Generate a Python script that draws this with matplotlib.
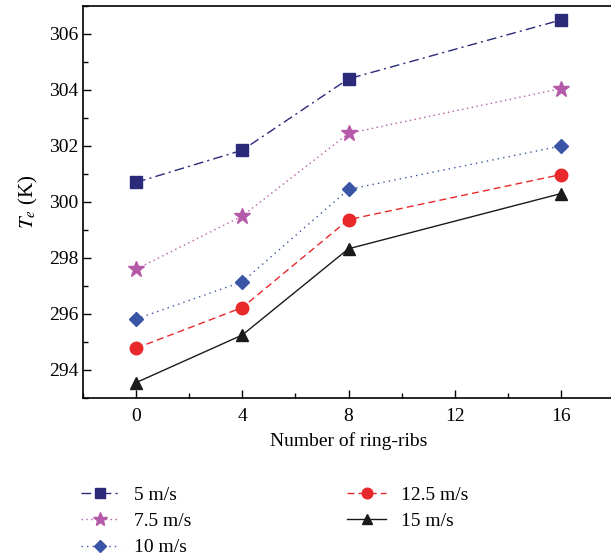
import matplotlib
matplotlib.use("Agg")
import matplotlib.pyplot as plt
from matplotlib.ticker import MultipleLocator

plt.rcParams['font.family'] = ['Liberation Serif', 'DejaVu Serif']
plt.rcParams['mathtext.fontset'] = 'stix'

ribs = [0, 4, 8, 16]
labels = ['5 m/s', '7.5 m/s', '10 m/s', '12.5 m/s', '15 m/s']
v5 = [300.70, 301.85, 304.40, 306.50]
v75 = [297.60, 299.50, 302.45, 304.05]
v10 = [295.82, 297.15, 300.45, 302.00]
v125 = [294.78, 296.23, 299.37, 300.98]
v15 = [293.55, 295.25, 298.33, 300.30]

series = [v5, v75, v10, v125, v15]
colors = ['#2b2a7a', '#b55aa8', '#3a55a5', '#e8282a', '#1a1a1a']
markers = ['s', '*', 'D', 'o', '^']
msizes = [8.5, 12, 7.5, 9, 8]
styles = [(0, (7, 3, 1.5, 3)), (0, (1, 2.5)), (0, (1, 3)), (0, (5, 3)), '-']

fig = plt.figure(figsize=(6.11, 5.59), dpi=100)
ax = fig.add_axes([83/611, 161/559, 531/611, 392/559])

for y, c, m, ms, ls, lab in zip(series, colors, markers, msizes, styles, labels):
    ax.plot(ribs, y, color=c, marker=m, markersize=ms, linestyle=ls,
            linewidth=1.0, label=lab, markeredgecolor=c)

ax.set_xlim(-2, 18)
ax.set_ylim(293, 307)
ax.set_xticks([0, 4, 8, 12, 16])
ax.set_yticks([294, 296, 298, 300, 302, 304, 306])
ax.xaxis.set_minor_locator(MultipleLocator(2))
ax.yaxis.set_minor_locator(MultipleLocator(1))
ax.tick_params(which='both', direction='in', labelsize=14, width=1)
ax.tick_params(which='major', length=6)
ax.tick_params(which='minor', length=3.5)
ax.tick_params(axis='x', pad=7)
for s in ax.spines.values():
    s.set_linewidth(1.2)

ax.set_xlabel('Number of ring-ribs', fontsize=14, labelpad=5)
ax.set_ylabel('$T_e$ (K)', fontsize=15, labelpad=6)

handles, labs = ax.get_legend_handles_labels()
fig.legend(handles, labs, ncol=2, loc='upper left',
           bbox_to_anchor=(81/611, 1 - 486/559), frameon=False,
           fontsize=14, handlelength=2.0, handletextpad=0.75,
           columnspacing=8.0, labelspacing=0.45, borderpad=0,
           borderaxespad=0, markerscale=0.85)

fig.savefig('out.png', dpi=100)
